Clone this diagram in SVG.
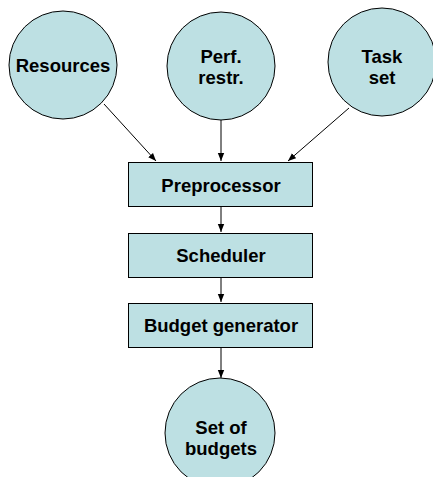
<svg xmlns="http://www.w3.org/2000/svg" width="433" height="477" viewBox="0 0 433 477">
  <style>
    .node { fill: #bde0e3; stroke: #000; stroke-width: 1; }
    .label { font-family: "Liberation Sans", Arial, sans-serif; font-weight: bold; font-size: 18.5px; fill: #000; text-anchor: middle; }
    .edge { stroke: #000; stroke-width: 1; fill: none; marker-end: url(#arrow); }
  </style>
  <defs>
    <marker id="arrow" viewBox="0 0 10 10" refX="10" refY="5" markerWidth="8" markerHeight="8" markerUnits="userSpaceOnUse" orient="auto">
      <path d="M0,1 L10,5 L0,9 z" fill="#000"/>
    </marker>
  </defs>
  <rect width="433" height="477" fill="#fff"/>

  <g id="connectors">
    <line class="edge" x1="104" y1="104" x2="156" y2="161"/>
    <line class="edge" x1="221" y1="120" x2="221" y2="161"/>
    <line class="edge" x1="349" y1="108" x2="288" y2="161"/>
    <line class="edge" x1="221" y1="206" x2="221" y2="232"/>
    <line class="edge" x1="221" y1="277" x2="221" y2="302"/>
    <line class="edge" x1="221" y1="348" x2="221" y2="378"/>
  </g>

  <g id="resources">
    <circle class="node" cx="63" cy="65" r="54"/>
    <text class="label" x="63" y="72">Resources</text>
  </g>
  <g id="perf-restr">
    <circle class="node" cx="221" cy="66" r="54"/>
    <text class="label" x="221" y="63">Perf.</text>
    <text class="label" x="221" y="84">restr.</text>
  </g>
  <g id="task-set">
    <circle class="node" cx="382" cy="62" r="54"/>
    <text class="label" x="382" y="63">Task</text>
    <text class="label" x="382" y="84">set</text>
  </g>
  <g id="preprocessor">
    <rect class="node" x="128.5" y="162.5" width="184" height="44"/>
    <text class="label" x="221" y="192">Preprocessor</text>
  </g>
  <g id="scheduler">
    <rect class="node" x="128.5" y="233.5" width="184" height="44"/>
    <text class="label" x="221" y="262">Scheduler</text>
  </g>
  <g id="budget-generator">
    <rect class="node" x="128.5" y="303.5" width="184" height="44"/>
    <text class="label" x="221" y="332">Budget generator</text>
  </g>
  <g id="set-of-budgets">
    <circle class="node" cx="220" cy="433" r="55"/>
    <text class="label" x="221" y="434">Set of</text>
    <text class="label" x="221" y="455">budgets</text>
  </g>
</svg>
